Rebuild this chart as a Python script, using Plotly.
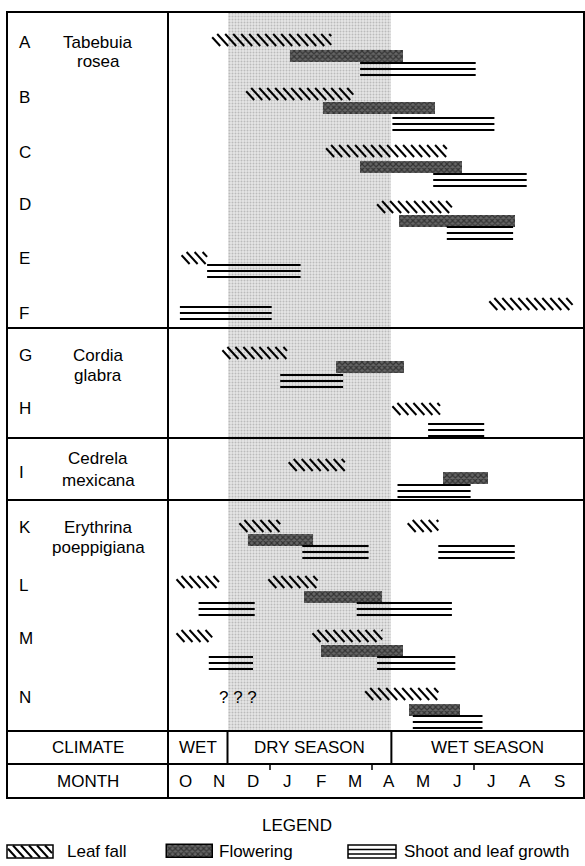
import plotly.graph_objects as go

# ---------------- DATA (months since 1 October; 0 = Oct 1, 12 = end of Sep) ----------------
TREES = ["A", "B", "C", "D", "E", "F", "G", "H", "I", "K", "L", "M", "N"]
SPECIES = {"A": ["Tabebuia", "rosea"], "G": ["Cordia", "glabra"],
           "I": ["Cedrela", "mexicana"], "K": ["Erythrina", "poeppigiana"]}

LEAF_TREE = ["A", "B", "C", "D", "E", "F", "G", "H", "I", "K", "K", "L", "L", "M", "M", "N"]
LEAF_START = [1.30, 2.30, 4.65, 6.15, 0.40, 9.45, 1.60, 6.60, 3.55, 2.10, 7.05, 0.25, 2.95, 0.25, 4.25, 5.80]
LEAF_END = [4.80, 5.45, 8.20, 8.35, 1.15, 11.90, 3.50, 8.00, 5.20, 3.30, 7.95, 1.50, 4.40, 1.30, 6.30, 7.95]

FLOWER_TREE = ["A", "B", "C", "D", "G", "I", "K", "L", "M", "N"]
FLOWER_START = [3.60, 4.55, 5.65, 6.80, 4.95, 8.10, 2.35, 4.00, 4.50, 7.10]
FLOWER_END = [6.90, 7.85, 8.65, 10.20, 6.95, 9.40, 4.25, 6.30, 6.90, 8.60]

SHOOT_TREE = ["A", "B", "C", "D", "E", "F", "G", "H", "I", "K", "K", "L", "L", "M", "M", "N"]
SHOOT_START = [5.65, 6.60, 7.80, 8.20, 1.15, 0.35, 3.30, 7.65, 6.75, 3.95, 7.95, 0.90, 5.55, 1.20, 6.15, 7.20]
SHOOT_END = [9.05, 9.60, 10.55, 10.15, 3.90, 3.05, 5.15, 9.30, 8.90, 5.90, 10.20, 2.55, 8.35, 2.50, 8.45, 9.25]

MONTHS = ["O", "N", "D", "J", "F", "M", "A", "M", "J", "J", "A", "S"]
CLIMATE_LABELS = ["WET", "DRY SEASON", "WET SEASON"]
DRY_START, DRY_END = 1.75, 6.57
UNKNOWN_TREE, UNKNOWN_TEXT, UNKNOWN_AT = "N", "? ? ?", 2.05

# ---------------- LAYOUT (pixel geometry of the drawing) ----------------
W, H = 585, 866
X0_PX, PX_PER_MONTH = 168, 34
def mx(px):
    return (px - X0_PX) / PX_PER_MONTH

LEFT, RIGHT, TOP = 7, 584, 12
SECTION_LINES = [328, 438, 500]
CLIMATE_TOP, MONTH_TOP, BOTTOM = 731, 764, 798
LABEL_Y = {"A": 42, "B": 97, "C": 152, "D": 204, "E": 258, "F": 313, "G": 355, "H": 408,
           "I": 472, "K": 527, "L": 585, "M": 638, "N": 697}
SPECIES_Y = {"A": (42, 61), "G": (355, 375), "I": (458, 480), "K": (527, 547)}
# lane centre (leaf fall, flowering, shoot growth) per tree
LANES = {"A": (40, 56, 69), "B": (94, 108, 124), "C": (151, 167, 180), "D": (207, 221, 233),
         "E": (258, None, 271), "F": (304, None, 313), "G": (353, 367, 381), "H": (409, None, 430),
         "I": (465, 478, 491), "K": (526, 540, 552), "L": (582, 597, 609), "M": (636, 651, 663),
         "N": (694, 710, 722)}

FONT = "Liberation Sans, Arial, sans-serif"
FS = 17
BAND = 12
HATCH_STEP = 8 / PX_PER_MONTH     # months between hatch strokes
HATCH_RUN = 11 / PX_PER_MONTH     # horizontal run of one stroke

def hatch(start, end, yc, half, xs, ys):
    """Diagonal '\\' strokes filling [start,end] x [yc-half, yc+half], clipped."""
    y_top, y_bot = yc - half, yc + half
    x = start - HATCH_RUN
    while x < end:
        a, b = x, x + HATCH_RUN
        ya, yb = y_top, y_bot
        if a < start:
            ya = y_top + (start - a) / HATCH_RUN * (y_bot - y_top)
            a = start
        if b > end:
            yb = y_top + (end - x) / HATCH_RUN * (y_bot - y_top)
            b = end
        if b - a > 0.02:
            xs += [a, b, None]
            ys += [ya, yb, None]
        x += HATCH_STEP

fig = go.Figure()

# dry season stipple
fig.add_trace(go.Bar(orientation="h", y=[(TOP + CLIMATE_TOP) / 2], width=[CLIMATE_TOP - TOP],
                     base=[DRY_START], x=[DRY_END - DRY_START],
                     marker=dict(color="#e0e0e0", line=dict(width=0),
                                 pattern=dict(shape=".", fgcolor="#8f8f8f", bgcolor="#e6e6e6",
                                              size=3, solidity=0.35)),
                     hoverinfo="skip", showlegend=False))

flower_pattern = dict(shape="x", fgcolor="#000", bgcolor="#666666", size=4, solidity=0.5)

# flowering
fig.add_trace(go.Bar(orientation="h",
                     y=[LANES[t][1] for t in FLOWER_TREE],
                     base=FLOWER_START,
                     x=[e - s for s, e in zip(FLOWER_START, FLOWER_END)],
                     width=BAND, marker=dict(color="#444", line=dict(width=0), pattern=flower_pattern),
                     hoverinfo="skip", showlegend=False))
# leaf fall (hatched)
hx, hy = [], []
for t, s, e in zip(LEAF_TREE, LEAF_START, LEAF_END):
    hatch(s, e, LANES[t][0], BAND / 2, hx, hy)
LEG_Y = 851.5
hatch(mx(8), mx(52), LEG_Y, 6, hx, hy)
fig.add_trace(go.Scatter(x=hx, y=hy, mode="lines", line=dict(color="black", width=2),
                         hoverinfo="skip", showlegend=False))
# shoot & leaf growth: three parallel lines
sx, sy = [], []
for t, s, e in zip(SHOOT_TREE, SHOOT_START, SHOOT_END):
    yc = LANES[t][2]
    for off in (-6, 0, 6):
        sx += [s, e, None]
        sy += [yc + off, yc + off, None]
fig.add_trace(go.Scatter(x=sx, y=sy, mode="lines", line=dict(color="black", width=2),
                         hoverinfo="skip", showlegend=False))

# legend flowering swatch
fig.add_trace(go.Bar(orientation="h", y=[LEG_Y], base=[mx(167)], x=[mx(213) - mx(167)], width=13,
                     marker=dict(color="#444", line=dict(width=1.5, color="black"),
                                 pattern=flower_pattern),
                     hoverinfo="skip", showlegend=False))

shapes = []
def line(x0, y0, x1, y1, w=2):
    shapes.append(dict(type="line", xref="x", yref="y", x0=x0, y0=y0, x1=x1, y1=y1,
                       line=dict(color="black", width=w)))

# frame
shapes.append(dict(type="rect", xref="x", yref="y", x0=mx(LEFT), x1=mx(RIGHT), y0=TOP, y1=BOTTOM,
                   line=dict(color="black", width=2)))
line(mx(X0_PX), TOP, mx(X0_PX), BOTTOM)
for yy in SECTION_LINES + [CLIMATE_TOP, MONTH_TOP]:
    line(mx(LEFT), yy, mx(RIGHT), yy)
for b in (DRY_START, DRY_END):
    line(b, CLIMATE_TOP, b, MONTH_TOP)
for m in (3, 6, 9):
    line(m, MONTH_TOP, m, MONTH_TOP + 6, 1.5)
# legend swatch borders
shapes.append(dict(type="rect", xref="x", yref="y", x0=mx(7), x1=mx(53), y0=845, y1=858,
                   line=dict(color="black", width=1.5)))
shapes.append(dict(type="rect", xref="x", yref="y", x0=mx(348), x1=mx(396), y0=845, y1=858,
                   line=dict(color="black", width=1.5)))
for yy in (849.5, 854):
    line(mx(348), yy, mx(396), yy, 1.5)

ann = []
def text(x, y, s, anchor="center", size=FS):
    ann.append(dict(x=x, y=y, xref="x", yref="y", text=s, showarrow=False,
                    xanchor=anchor, yanchor="middle", font=dict(family=FONT, size=size, color="black")))

for t in TREES:
    text(mx(17), LABEL_Y[t], t, "left")
for t, (l1, l2) in SPECIES.items():
    y1, y2 = SPECIES_Y[t]
    text(mx(98), y1, l1)
    text(mx(98), y2, l2)
text(UNKNOWN_AT, LABEL_Y[UNKNOWN_TREE], UNKNOWN_TEXT)

cy = (CLIMATE_TOP + MONTH_TOP) / 2
my = (MONTH_TOP + BOTTOM) / 2
text(mx((LEFT + X0_PX) / 2), cy, "CLIMATE")
text(mx((LEFT + X0_PX) / 2), my, "MONTH")
bounds = [0, DRY_START, DRY_END, mx(RIGHT)]
for i, lab in enumerate(CLIMATE_LABELS):
    text((bounds[i] + bounds[i + 1]) / 2, cy, lab)
for i, m in enumerate(MONTHS):
    text(i + 0.5, my, m)

text(mx(297), 825, "LEGEND")
text(mx(65), LEG_Y, "Leaf fall", "left")
text(mx(217), LEG_Y, "Flowering", "left")
text(mx(402), LEG_Y, "Shoot and leaf growth", "left")

fig.update_layout(width=W, height=H, margin=dict(l=0, r=0, t=0, b=0),
                  paper_bgcolor="white", plot_bgcolor="white", barmode="overlay",
                  shapes=shapes, annotations=ann, showlegend=False,
                  xaxis=dict(range=[mx(0), mx(W)], visible=False, fixedrange=True),
                  yaxis=dict(range=[H, 0], visible=False, fixedrange=True),
                  bargap=0)
fig.write_html("out.html", config={"displayModeBar": False},
               post_script="document.body.style.margin='0';document.body.style.padding='0';")
